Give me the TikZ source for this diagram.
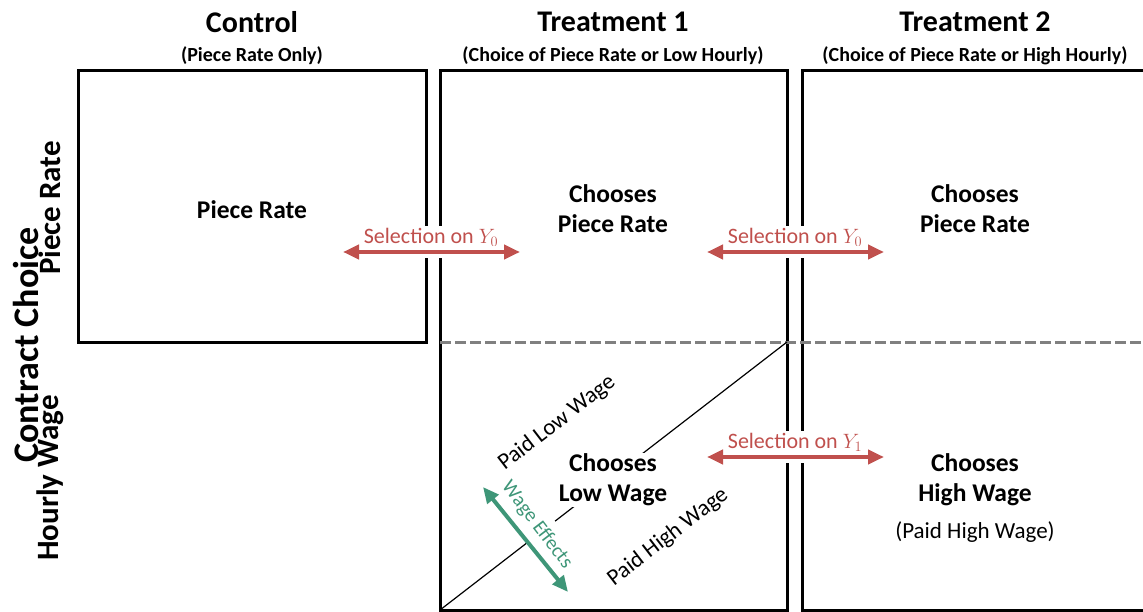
\documentclass[tikz,border=0pt]{standalone}
\usepackage{fontspec}
\setmainfont{Carlito}
\usepackage{amsmath}
\usetikzlibrary{calc}
\usetikzlibrary{arrows.meta}
\tikzset{>=latex}
\definecolor{selred}{RGB}{192,80,77}
\definecolor{wagegreen}{RGB}{62,150,120}
\tikzset{
  panel/.style={draw, line width=3pt},
  divider/.style={draw=gray, line width=3pt, dash pattern=on 11pt off 4pt},
  head/.style={font=\bfseries\fontsize{30}{34}\selectfont},
  subhead/.style={font=\bfseries\fontsize{20}{24}\selectfont},
  cell/.style={font=\bfseries\fontsize{25.5}{30}\selectfont, align=center},
  side/.style={font=\bfseries\fontsize{31}{34}\selectfont, rotate=90},
  paid/.style={font=\fontsize{23}{26}\selectfont},
  sellabel/.style={text=selred, font=\fontsize{22}{24}\selectfont, fill=white, inner sep=2pt},
  selarrow/.style={selred, line width=4pt,
    {Triangle[length=16pt,width=14pt]}-{Triangle[length=16pt,width=14pt]},
    preaction={draw=white, line width=12pt, -}},
  wagearrow/.style={wagegreen, line width=4pt,
    {Triangle[length=16pt,width=14pt]}-{Triangle[length=16pt,width=14pt]}}
}

\begin{document}
\begin{tikzpicture}[x=1pt,y=-1pt]
  \clip (0,0) rectangle (1143,612);
  \fill[white] (0,0) rectangle (1143,612);

  % panels
  \draw[panel] (78,71) rectangle (426,342);
  \draw[panel] (440,71) rectangle (787,610);
  \draw[panel] (802,71) rectangle (1160,610);
  \draw[divider] (440,342) -- (1143,342);

  \coordinate (dlo) at (440,610);
  \coordinate (dhi) at (787,342);
  \draw[line width=1.2pt] (dlo) -- (dhi);

  % headings
  \node[head] (ctrl) at (252,22) {Control};
  \node[subhead] (ctrlsub) at (252,56) {(Piece Rate Only)};
  \node[head] (tone) at (613,22) {Treatment 1};
  \node[subhead] (tonesub) at (613,56) {(Choice of Piece Rate or Low Hourly)};
  \node[head] (ttwo) at (975,22) {Treatment 2};
  \node[subhead] (ttwosub) at (975,56) {(Choice of Piece Rate or High Hourly)};

  \node[side, font=\bfseries\fontsize{36}{40}\selectfont] (choice) at (26,345) {Contract Choice};
  \node[side] (rowpr) at (50,208) {Piece Rate};
  \node[side] (rowhw) at (50,478) {Hourly Wage};

  % cells
  \node[cell] (cpr) at (252,210) {Piece Rate};
  \node[cell] (tonepr) at (613,209) {Chooses\\Piece Rate};
  \node[cell] (ttwopr) at (975,209) {Chooses\\Piece Rate};
  \node[cell, fill=white, inner sep=1pt] (tonelw) at (613,480) {Chooses\\Low Wage};
  \node[cell] (ttwohw) at (975,480) {Chooses\\High Wage};
  \node[paid] (ttwopaid) at (975,532) {(Paid High Wage)};

  \node[paid, rotate=37.6] (plw) at (557,423) {Paid Low Wage};
  \node[paid, rotate=37.6] (phw) at (668,537) {Paid High Wage};

  % selection and wage effects
  \node[sellabel] (sla) at (431,237) {Selection on $Y_0$};
  \node[sellabel] (slb) at (795,237) {Selection on $Y_0$};
  \node[sellabel] (slc) at (795,442) {Selection on $Y_1$};
  \coordinate (sa1) at (343,252);
  \coordinate (sa2) at (520,252);
  \coordinate (sb1) at (707,252);
  \coordinate (sb2) at (884,252);
  \coordinate (sc1) at (707,457);
  \coordinate (sc2) at (884,457);
  \draw[selarrow] (sa1) -- (sa2);
  \draw[selarrow] (sb1) -- (sb2);
  \draw[selarrow] (sc1) -- (sc2);

  \node[text=wagegreen, font=\fontsize{20}{22}\selectfont, rotate=-52.6,
        fill=white, inner xsep=2pt, inner ysep=8pt] (we) at (537,525) {Wage Effects};
  \coordinate (we1) at (483,487);
  \coordinate (we2) at (568,592);
  \draw[wagearrow] (we1) -- (we2);
\end{tikzpicture}
\end{document}
